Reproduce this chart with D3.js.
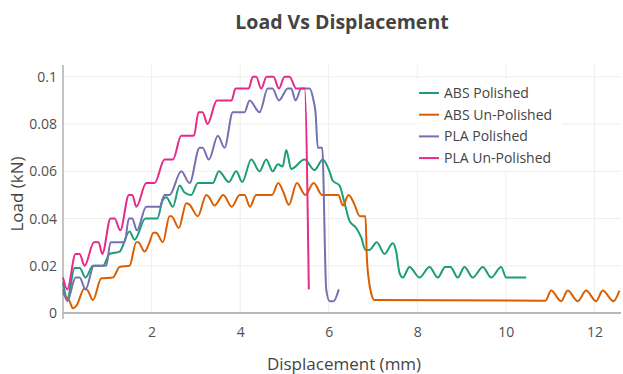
<!DOCTYPE html>
<html><head><meta charset="utf-8">
<script src="https://cdn.jsdelivr.net/npm/d3@7"></script>
<style>
html,body{margin:0;padding:0;background:#fff;}
svg{display:block;font-family:"Open Sans",sans-serif;}
</style></head>
<body><svg id="chart" width="623" height="374"></svg>
<script>
const seriesNames = ["ABS Polished","ABS Un-Polished","PLA Polished","PLA Un-Polished"];
const seriesColors = ["#1b9e77","#d95f02","#7570b3","#e7298a"];
const xTicks = [2,4,6,8,10,12];
const yTicks = [0,0.02,0.04,0.06,0.08,0.1];

const absPolishedX = [0,0.097,0.262,0.375,0.510,0.675,0.901,1.052,1.278,1.503,1.616,1.860,2.130,2.255,2.332,2.481,2.632,2.745,2.896,3.045,3.384,3.519,3.745,3.912,4.047,4.251,4.438,4.589,4.736,4.851,4.960,5.041,5.153,5.454,5.679,5.867,6.016,6.093,6.244,6.357,6.470,6.621,6.734,6.831,6.921,7.086,7.260,7.447,7.524,7.598,7.673,7.824,8.050,8.276,8.463,8.630,8.750,8.914,9.065,9.253,9.479,9.668,9.894,10.007,10.458];
const absPolishedY = [0.013,0.006,0.019,0.019,0.015,0.02,0.02,0.025,0.026,0.0345,0.031,0.04,0.04,0.048,0.049,0.045,0.054,0.051,0.05,0.055,0.055,0.06,0.0555,0.06,0.0555,0.065,0.06,0.065,0.06,0.063,0.062,0.069,0.061,0.065,0.0605,0.065,0.06,0.056,0.054,0.0466,0.039,0.036,0.032,0.0267,0.0267,0.03,0.025,0.0295,0.026,0.017,0.015,0.0195,0.015,0.0195,0.015,0.0195,0.0195,0.015,0.0195,0.015,0.0195,0.015,0.0195,0.015,0.015];

const absUnpolishedX = [0,0.074,0.149,0.223,0.300,0.488,0.562,0.675,0.865,1.126,1.278,1.503,1.655,1.700,1.842,1.955,2.040,2.100,2.255,2.406,2.450,2.616,2.783,2.850,3.045,3.235,3.300,3.420,3.620,3.810,3.990,4.100,4.220,4.360,4.720,4.860,4.980,5.100,5.280,5.470,5.660,5.850,6.220,6.320,6.450,6.580,6.700,6.830,6.860,6.905,6.960,7.034,10.894,11.023,11.248,11.397,11.623,11.813,12.038,12.187,12.429,12.564];
const absUnpolishedY = [0.0083,0.0067,0.005,0.002,0.003,0.0105,0.0095,0.0055,0.0147,0.015,0.0195,0.02,0.03,0.03,0.026,0.03,0.034,0.034,0.03,0.041,0.041,0.036,0.0465,0.046,0.041,0.05,0.049,0.0455,0.05,0.045,0.05,0.05,0.045,0.05,0.05,0.055,0.051,0.0458,0.055,0.05,0.055,0.05,0.05,0.0455,0.05,0.046,0.041,0.041,0.024,0.014,0.0083,0.0055,0.0052,0.0095,0.005,0.0095,0.005,0.0095,0.005,0.0095,0.005,0.0095];

const plaPolishedX = [0,0.097,0.284,0.375,0.510,0.698,0.977,1.074,1.391,1.488,1.564,1.668,1.880,2.181,2.293,2.406,2.670,2.858,3.084,3.151,3.293,3.497,3.648,3.835,4.099,4.212,4.438,4.625,4.731,4.874,5.077,5.153,5.251,5.379,5.567,5.657,5.702,5.754,5.853,5.944,6.020,6.108,6.228];
const plaPolishedY = [0.01,0.005,0.015,0.015,0.01,0.02,0.02,0.03,0.03,0.04,0.04,0.035,0.045,0.045,0.05,0.05,0.06,0.055,0.07,0.07,0.065,0.075,0.07,0.085,0.085,0.09,0.085,0.095,0.095,0.09,0.095,0.095,0.09,0.095,0.095,0.09,0.085,0.07,0.07,0.01,0.005,0.005,0.01];

const plaUnpolishedX = [0,0.097,0.284,0.375,0.488,0.698,0.804,0.887,1.074,1.165,1.293,1.488,1.564,1.655,1.880,2.068,2.293,2.481,2.670,2.955,3.061,3.151,3.264,3.474,3.806,3.896,4.190,4.287,4.363,4.476,4.596,4.754,4.874,5.002,5.115,5.266,5.454,5.551];
const plaUnpolishedY = [0.015,0.01,0.025,0.025,0.02,0.03,0.03,0.025,0.04,0.04,0.035,0.05,0.05,0.045,0.055,0.055,0.065,0.065,0.075,0.075,0.085,0.085,0.08,0.09,0.09,0.095,0.095,0.1,0.1,0.095,0.1,0.1,0.095,0.1,0.1,0.095,0.095,0.01];

const seriesX = [absPolishedX, absUnpolishedX, plaPolishedX, plaUnpolishedX];
const seriesY = [absPolishedY, absUnpolishedY, plaPolishedY, plaUnpolishedY];

const svg = d3.select("#chart");
const mLeft = 63, mRight = 621, mTop = 65, mBottom = 313;
const x = d3.scaleLinear().domain([0, 12.6]).range([mLeft, mRight]);
const y = d3.scaleLinear().domain([0, 0.105]).range([mBottom, mTop]);

// gridlines
svg.append("g").selectAll("line").data(xTicks).join("line")
  .attr("x1", d => x(d)).attr("x2", d => x(d)).attr("y1", mTop).attr("y2", mBottom)
  .attr("stroke", "#eeeeee").attr("stroke-width", 1);
svg.append("g").selectAll("line").data(yTicks.filter(d => d > 0)).join("line")
  .attr("x1", mLeft).attr("x2", mRight).attr("y1", d => y(d)).attr("y2", d => y(d))
  .attr("stroke", "#eeeeee").attr("stroke-width", 1);

// axes
const xAxis = svg.append("g").attr("transform", `translate(0,${mBottom})`)
  .call(d3.axisBottom(x).tickValues(xTicks).tickSize(0).tickPadding(14).tickFormat(d3.format("d")));
const yAxis = svg.append("g").attr("transform", `translate(${mLeft},0)`)
  .call(d3.axisLeft(y).tickValues(yTicks).tickSize(0).tickPadding(6).tickFormat(d => d === 0 ? "0" : String(+d.toFixed(2))));
[xAxis, yAxis].forEach(g => {
  g.select(".domain").remove();
  g.selectAll("text").attr("fill", "#505050").style("font-size", "14px").style("font-family", "'Open Sans',sans-serif");
});
svg.append("line").attr("x1", mLeft).attr("x2", mRight).attr("y1", mBottom).attr("y2", mBottom)
  .attr("stroke", "#a0a0a0").attr("stroke-width", 1.5);
svg.append("line").attr("x1", mLeft).attr("x2", mLeft).attr("y1", mTop).attr("y2", mBottom + 6)
  .attr("stroke", "#b0b0b0").attr("stroke-width", 1.5);

// lines
const line = d3.line().curve(d3.curveMonotoneX);
svg.append("g").selectAll("path").data(seriesNames).join("path")
  .attr("d", (d, i) => line(seriesX[i].map((v, j) => [x(v), y(seriesY[i][j])])))
  .attr("fill", "none").attr("stroke", (d, i) => seriesColors[i]).attr("stroke-width", 2)
  .attr("stroke-linejoin", "round");

// legend
const lg = svg.append("g");
lg.append("rect").attr("x", 415).attr("y", 79).attr("width", 147).attr("height", 92).attr("fill", "#fff");
const items = lg.selectAll("g.item").data(seriesNames).join("g").attr("class", "item")
  .attr("transform", (d, i) => `translate(419,${93 + i * 21.7})`);
items.append("line").attr("x1", 0).attr("x2", 20).attr("y1", 0).attr("y2", 0)
  .attr("stroke", (d, i) => seriesColors[i]).attr("stroke-width", 2);
items.append("text").attr("x", 25).attr("y", 0).attr("dy", "0.35em").text(d => d)
  .attr("fill", "#444").style("font-size", "14px");

// titles
svg.append("text").attr("x", 342).attr("y", 29).attr("text-anchor", "middle")
  .attr("fill", "#444").style("font-size", "19.5px").style("font-weight", "bold").text("Load Vs Displacement");
svg.append("text").attr("x", 344).attr("y", 370).attr("text-anchor", "middle")
  .attr("fill", "#444").style("font-size", "17px").text("Displacement (mm)");
svg.append("text").attr("transform", "translate(23,194) rotate(-90)").attr("text-anchor", "middle")
  .attr("fill", "#444").style("font-size", "17px").text("Load (kN)");
</script></body></html>
